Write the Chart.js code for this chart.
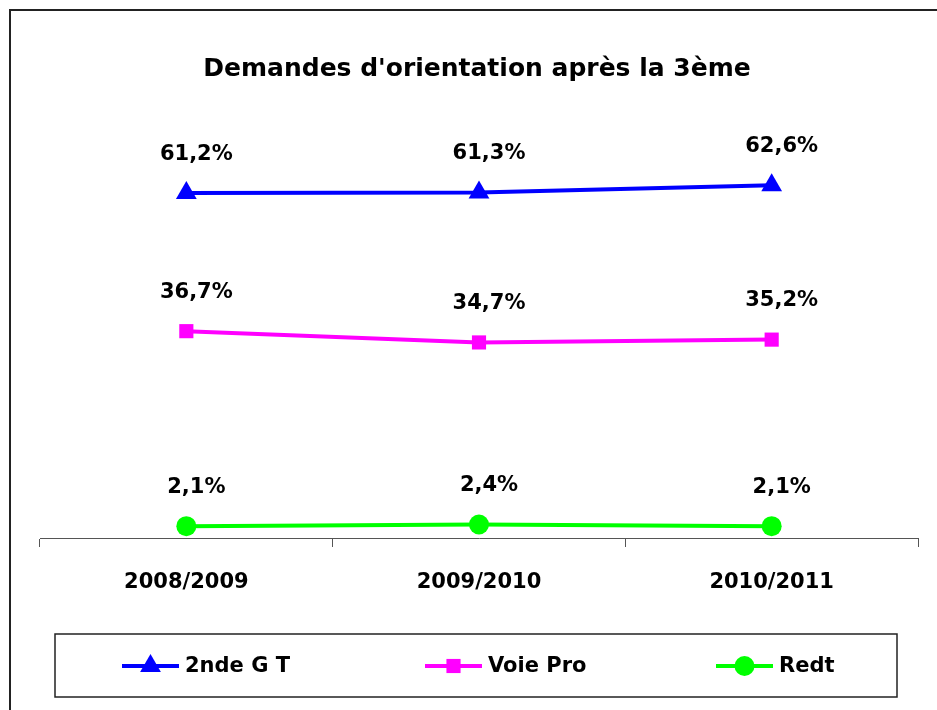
<!DOCTYPE html>
<html>
<head>
<meta charset="utf-8">
<script src="https://cdn.jsdelivr.net/npm/chart.js@4/dist/chart.umd.min.js"></script>
<style>
  html, body { margin: 0; padding: 0; background: #fff; overflow: hidden; }
  #wrap { position: relative; width: 937px; height: 710px; }
</style>
</head>
<body>
<div id="wrap"><canvas id="orientChart" width="937" height="710"></canvas></div>
<script>
const years = ['2008/2009', '2009/2010', '2010/2011'];
const seriesNames = ['2nde G T', 'Voie Pro', 'Redt'];
const secondeGT = [61.2, 61.3, 62.6];
const voiePro = [36.7, 34.7, 35.2];
const redoublement = [2.1, 2.4, 2.1];

const FONT = '"DejaVu Sans", "Liberation Sans", sans-serif';
const chartTitle = "Demandes d'orientation après la 3ème";

function pct(v) {
  return v.toFixed(1).replace('.', ',') + '%';
}

function marker(ctx, style, x, y, r, color) {
  ctx.save();
  ctx.fillStyle = color;
  ctx.beginPath();
  if (style === 'triangle') {
    ctx.moveTo(x, y - r);
    ctx.lineTo(x + r * Math.sin(Math.PI / 3), y + r / 2);
    ctx.lineTo(x - r * Math.sin(Math.PI / 3), y + r / 2);
    ctx.closePath();
  } else if (style === 'rect') {
    const s = Math.SQRT1_2 * r;
    ctx.rect(x - s, y - s, 2 * s, 2 * s);
  } else {
    ctx.arc(x, y, r, 0, Math.PI * 2);
  }
  ctx.fill();
  ctx.restore();
}

// frame, title, value labels and the boxed legend
const decorPlugin = {
  id: 'decor',
  beforeDraw(chart) {
    const ctx = chart.ctx;
    ctx.save();
    ctx.fillStyle = '#fff';
    ctx.fillRect(0, 0, chart.width, chart.height);
    ctx.strokeStyle = '#222';
    ctx.lineWidth = 2;
    ctx.strokeRect(10, 10, 1000, 1000);
    ctx.restore();
  },
  afterDraw(chart) {
    const ctx = chart.ctx;
    ctx.save();
    ctx.fillStyle = '#000';
    ctx.textAlign = 'center';
    ctx.textBaseline = 'middle';
    ctx.font = 'bold 25px ' + FONT;
    ctx.fillText(chartTitle, 477, 69);

    ctx.font = 'bold 21px ' + FONT;
    chart.data.datasets.forEach((ds, i) => {
      const meta = chart.getDatasetMeta(i);
      meta.data.forEach((pt, j) => {
        ctx.fillText(pct(ds.data[j]), pt.x + 10, pt.y - 39);
      });
    });

    // legend
    ctx.strokeStyle = '#222';
    ctx.lineWidth = 1.5;
    ctx.strokeRect(55, 634, 842, 63);
    const lineStarts = [122, 425, 716];
    ctx.textAlign = 'left';
    ctx.font = 'bold 21px ' + FONT;
    chart.data.datasets.forEach((ds, i) => {
      const x0 = lineStarts[i];
      const y = 666;
      ctx.strokeStyle = ds.borderColor;
      ctx.lineWidth = 4;
      ctx.beginPath();
      ctx.moveTo(x0, y);
      ctx.lineTo(x0 + 57, y);
      ctx.stroke();
      marker(ctx, ds.pointStyle, x0 + 28.5, y, ds.pointRadius, ds.borderColor);
      ctx.fillStyle = '#000';
      ctx.fillText(ds.label, x0 + 63, y + 1);
    });
    ctx.restore();
  }
};

const lineDs = (label, data, color, style, radius) => ({
  label,
  data,
  borderColor: color,
  backgroundColor: color,
  pointBackgroundColor: color,
  pointBorderColor: color,
  pointBorderWidth: 0,
  pointStyle: style,
  pointRadius: radius,
  pointHoverRadius: radius,
  borderWidth: 4,
  tension: 0,
  clip: false,
});

new Chart(document.getElementById('orientChart'), {
  type: 'line',
  data: {
    labels: years,
    datasets: [
      lineDs(seriesNames[0], secondeGT, '#0000FF', 'triangle', 12),
      lineDs(seriesNames[1], voiePro, '#FF00FF', 'rect', 10),
      lineDs(seriesNames[2], redoublement, '#00FF00', 'circle', 10),
    ],
  },
  options: {
    responsive: false,
    devicePixelRatio: 1,
    animation: false,
    layout: { padding: { left: 40, right: 19, top: 143.5, bottom: 0 } },
    plugins: {
      legend: { display: false },
      title: { display: false },
      tooltip: { enabled: false },
    },
    scales: {
      x: {
        offset: true,
        grid: {
          offset: true,
          drawOnChartArea: false,
          drawTicks: true,
          tickLength: 9,
          color: '#555',
        },
        border: { display: true, color: '#555', width: 1 },
        ticks: {
          color: '#000',
          padding: 23,
          font: { family: FONT, size: 21, weight: 'bold' },
        },
        afterFit(scale) { scale.height = 172; },
      },
      y: {
        display: false,
        min: 0,
        max: 70,
      },
    },
  },
  plugins: [decorPlugin],
});
</script>
</body>
</html>
